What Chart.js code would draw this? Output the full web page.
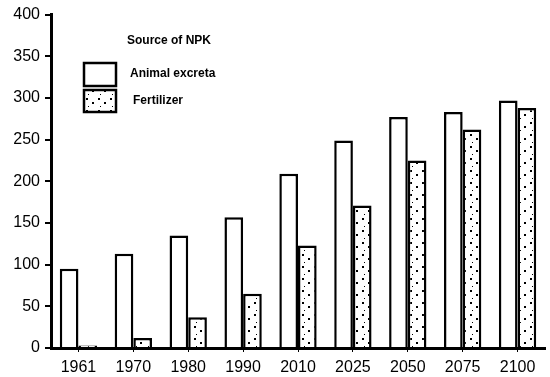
<!DOCTYPE html>
<html>
<head>
<meta charset="utf-8">
<script src="https://cdn.jsdelivr.net/npm/chart.js@4.4.1/dist/chart.umd.min.js"></script>
<style>
  html, body { margin: 0; padding: 0; background: #fff; }
  #wrap { width: 550px; height: 377px; }
</style>
</head>
<body>
<div id="wrap"><canvas id="npkChart"></canvas></div>
<script>
const years = ['1961', '1970', '1980', '1990', '2010', '2025', '2050', '2075', '2100'];
const animalExcreta = [95, 113, 135, 157, 209, 249, 277, 283, 297];
const fertilizer = [3, 12, 37, 65, 123, 171, 225, 262, 288];
const yTicks = [0, 50, 100, 150, 200, 250, 300, 350, 400];

// dotted fill like the scanned figure
function dotPattern() {
    var c = document.createElement('canvas');
    c.width = 12; c.height = 12;
    var g = c.getContext('2d');
    g.fillStyle = '#fff';
    g.fillRect(0, 0, 12, 12);
    g.fillStyle = '#000';
    g.fillRect(2, 2, 2, 2);
    g.fillRect(8, 6, 2, 2);
    g.fillRect(4, 10, 1, 1);
    return g.createPattern(c, 'repeat');
}
var dots = dotPattern();

var legendBox = {
    id: 'legendBox',
    afterDraw: function (chart) {
        var g = chart.ctx;
        g.save();
        g.fillStyle = '#000';
        g.textBaseline = 'middle';
        g.font = 'bold 12px "Liberation Sans", Arial, sans-serif';
        g.fillText('Source of NPK', 127, 41);
        g.fillText('Animal excreta', 130, 74);
        g.fillText('Fertilizer', 133, 101);
        g.lineWidth = 2.5;
        g.strokeStyle = '#000';
        g.fillStyle = '#fff';
        g.fillRect(84, 63, 32, 23);
        g.strokeRect(84, 63, 32, 23);
        g.fillStyle = dots;
        g.fillRect(84, 90, 32, 22);
        g.strokeRect(84, 90, 32, 22);
        g.restore();
    }
};

Chart.defaults.font.family = '"Liberation Sans", Arial, sans-serif';
Chart.defaults.color = '#000';
var ctx = document.getElementById('npkChart');
var myChart = new Chart(ctx, {
    type: 'bar',
    plugins: [legendBox],
    data: {
        labels: years,
        datasets: [
            {
                label: 'Animal excreta',
                data: animalExcreta,
                backgroundColor: '#fff',
                borderColor: '#000',
                borderWidth: 2.5,
            },
            {
                label: 'Fertilizer',
                data: fertilizer,
                backgroundColor: dots,
                borderColor: '#000',
                borderWidth: 2.5,
            },
        ]
    },
    options: {
        responsive: true,
        maintainAspectRatio: false,
        animation: false,
        layout: {
            padding: { top: 13, right: 5, left: 0, bottom: 0 },
        },
        plugins: {
            legend: { display: false },
            tooltip: { enabled: false },
        },
        datasets: {
            bar: {
                barPercentage: 1,
                categoryPercentage: 0.68,
            },
        },
        scales: {
            x: {
                grid: {
                    display: true,
                    offset: false,
                    drawOnChartArea: false,
                    tickLength: 4,
                    color: '#000',
                    lineWidth: 1,
                },
                border: { display: true, color: '#000', width: 3 },
                ticks: {
                    maxRotation: 0,
                    font: { size: 16 },
                    padding: 6,
                },
                afterFit: function (scale) { scale.height = 29; },
            },
            y: {
                min: 0,
                max: 400,
                afterBuildTicks: function (scale) {
                    scale.ticks = yTicks.map(function (v) { return { value: v }; });
                },
                grid: {
                    display: true,
                    drawOnChartArea: false,
                    tickLength: 6,
                    color: '#000',
                    lineWidth: 2,
                },
                border: { display: true, color: '#000', width: 3 },
                ticks: {
                    font: { size: 16 },
                    padding: 5,
                },
                afterFit: function (scale) { scale.width = 51; },
            },
        },
    },
});
</script>
</body>
</html>
